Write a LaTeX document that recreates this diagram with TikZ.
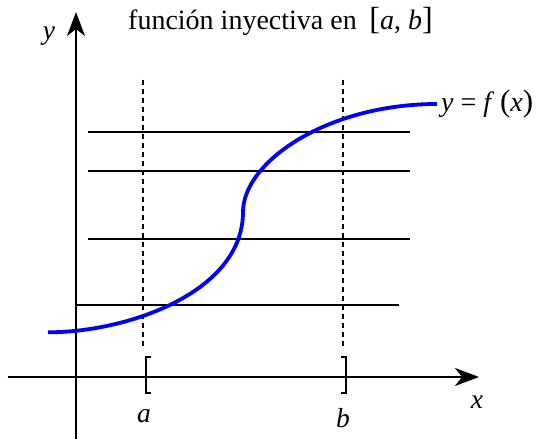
\documentclass[tikz,border=0pt]{standalone}
\usepackage{fontspec}
\setmainfont{Liberation Serif}
\usetikzlibrary{arrows.meta}
\tikzset{
  axis/.style={line width=1.8pt,-{Stealth[length=24pt,width=18pt,inset=7pt]}},
  hline/.style={line width=1.6pt},
  vdash/.style={line width=1.5pt,dash pattern=on 5pt off 4pt},
  brk/.style={line width=2pt},
  curve/.style={line width=3.8pt,blue},
  lbl/.style={inner sep=0pt,font=\fontsize{27.5}{32}\selectfont\itshape},
  txt/.style={inner sep=0pt,anchor=base west,font=\fontsize{28}{32}\selectfont}
}
\begin{document}
\begin{tikzpicture}[x=1pt,y=-1pt]
\useasboundingbox (0,0) rectangle (542,439);
% axes
\coordinate (xs) at (7.6,377);
\coordinate (xe) at (479,377);
\coordinate (ys) at (76,439);
\coordinate (ye) at (76,12);
\draw[axis] (xs) -- (xe);
\draw[axis] (ys) -- (ye);
% horizontal lines
\coordinate (h1s) at (88,132); \coordinate (h1e) at (410,132);
\coordinate (h2s) at (88,171); \coordinate (h2e) at (410,171);
\coordinate (h3s) at (88,239); \coordinate (h3e) at (410,239);
\coordinate (h4s) at (76,305); \coordinate (h4e) at (399,305);
\draw[hline] (h1s) -- (h1e);
\draw[hline] (h2s) -- (h2e);
\draw[hline] (h3s) -- (h3e);
\draw[hline] (h4s) -- (h4e);
% dashed verticals
\coordinate (das) at (143,79.5); \coordinate (dae) at (143,348);
\coordinate (dbs) at (343,79.5); \coordinate (dbe) at (343,348);
\draw[vdash] (das) -- (dae);
\draw[vdash] (dbs) -- (dbe);
% brackets
\coordinate (ba) at (146,357);
\coordinate (bb) at (345.6,357);
\draw[brk] ([xshift=4.5pt]ba) -- (ba) -- ++(0,35.5) -- ++(4.5,0);
\draw[brk] ([xshift=-4.5pt]bb) -- (bb) -- ++(0,35.5) -- ++(-4.5,0);
% curve
\coordinate (c0) at (48,332.3);
\coordinate (c1) at (243,212);
\coordinate (c2) at (437,104);
\draw[curve] (c0) .. controls (128,332.3) and (243,292) .. (c1)
  .. controls (243,162) and (327,104) .. (c2);
% labels
\node[lbl] (ly) at (49,36) {y};
\node[lbl] (lx) at (477,402) {x};
\node[lbl] (la) at (144,416) {a};
\node[lbl] (lb) at (343,418) {b};
\node[txt] (fx) at (441,111) {\textit{y} = \textit{f}\hspace{0.2em}{\fontsize{31}{32}\selectfont(}\textit{x}{\fontsize{31}{32}\selectfont)}};
\node[txt] (title) at (128,30) {función inyectiva en\hspace{0.45em}{\fontsize{32}{32}\selectfont[}\textit{a}, \textit{b}{\fontsize{32}{32}\selectfont]}};
\end{tikzpicture}
\end{document}
